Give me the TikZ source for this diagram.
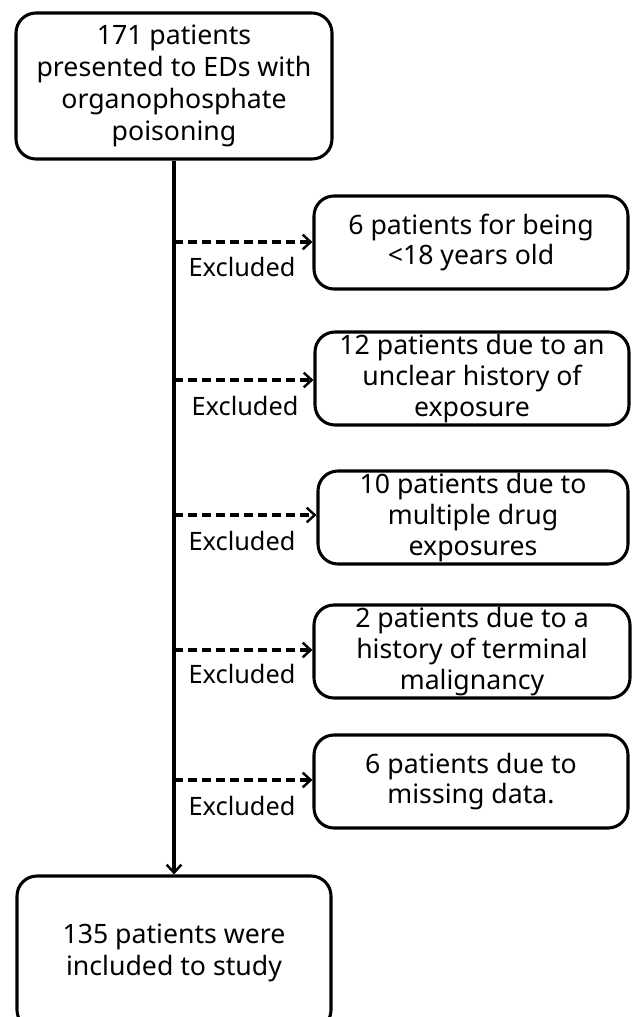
\documentclass[tikz,border=0pt]{standalone}
\usepackage{fontspec}
\setmainfont{Noto Sans}
\usetikzlibrary{arrows.meta}
\begin{document}
\begin{tikzpicture}[x=0.75pt,y=-0.75pt,
  box/.style={draw, line width=2.3pt, rounded corners=15pt, align=center,
    inner sep=0pt, font=\fontsize{20}{23}\selectfont},
  bigbox/.style={box, font=\fontsize{20}{24}\selectfont},
  sidebox/.style={box, minimum width=314*0.75pt, minimum height=93*0.75pt},
  mainline/.style={line width=2.3pt, -{Straight Barb[length=6pt,width=11pt,line width=1.8pt]}},
  exline/.style={line width=2.3pt, dash pattern=on 7pt off 3.5pt, -{Straight Barb[length=6pt,width=11pt,line width=1.8pt]}},
  exlabel/.style={font=\fontsize{19}{23}\selectfont, inner sep=0pt}]
\useasboundingbox (0,0) rectangle (633,1017);
\begin{scope}
\clip (0,0) rectangle (633,1017);
\node[bigbox, minimum width=316*0.75pt, minimum height=146*0.75pt] (top) at (174,86)
  {171 patients\\presented to EDs with\\organophosphate\\poisoning};
\node[bigbox, minimum width=314*0.75pt, minimum height=154*0.75pt] (bot) at (174,953)
  {135 patients were\\included to study};
\end{scope}
\node[sidebox] (b1) at (471,242.5) {6 patients for being\\<18 years old};
\node[sidebox] (b2) at (472,378.5) {12 patients due to an\\unclear history of\\exposure};
\node[sidebox, minimum width=310*0.75pt] (b3) at (473,517.5) {10 patients due to\\multiple drug\\exposures};
\node[sidebox, minimum width=316*0.75pt] (b4) at (472,651.5) {2 patients due to a\\history of terminal\\malignancy};
\node[sidebox] (b5) at (471,781.5) {6 patients due to\\missing data.};
\draw[mainline] (top.south) -- (bot.north);
\coordinate (j1) at (174,242);
\coordinate (j2) at (174,380);
\coordinate (j3) at (174,515);
\coordinate (j4) at (174,650);
\coordinate (j5) at (174,780);
\draw[exline] (j1) -- (j1 -| b1.west);
\draw[exline] (j2) -- (j2 -| b2.west);
\draw[exline] (j3) -- (j3 -| b3.west);
\draw[exline] (j4) -- (j4 -| b4.west);
\draw[exline] (j5) -- (j5 -| b5.west);
\node[exlabel] (e1) at (242,267) {Excluded};
\node[exlabel] (e2) at (245,406) {Excluded};
\node[exlabel] (e3) at (242,541) {Excluded};
\node[exlabel] (e4) at (242,674) {Excluded};
\node[exlabel] (e5) at (242,806) {Excluded};
\end{tikzpicture}
\end{document}
